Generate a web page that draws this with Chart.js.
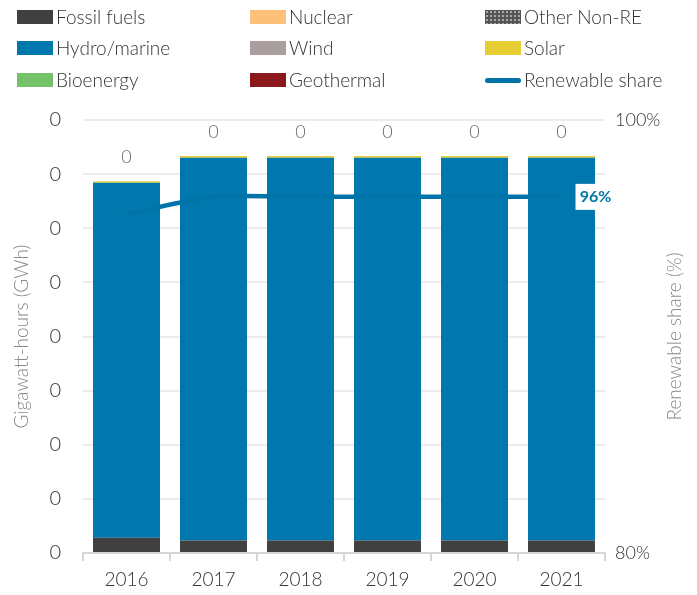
<!DOCTYPE html>
<html>
<head>
<meta charset="utf-8">
<script src="https://cdn.jsdelivr.net/npm/chart.js@4/dist/chart.umd.min.js"></script>
<style>
  body { margin: 0; background: #fff; font-family: Lato, "Open Sans", sans-serif; }
  #wrap { position: relative; width: 697px; height: 595px; }
  #chart { position: absolute; left: 0; top: 0; }
  .legend { position: absolute; left: 0; top: 0; width: 697px; height: 100px; }
  .item { position: absolute; display: flex; align-items: center; font-size: 19px; color: #333; font-weight: 300; line-height: 22px; }
  .sw { width: 36px; height: 14px; margin-right: 3px; }
  .sw.line { height: 5px; border-radius: 3px; margin-right: 3px; }
</style>
</head>
<body>
<div id="wrap">
  <canvas id="chart" width="697" height="595"></canvas>
  <div class="legend" id="legend"></div>
</div>
<script>
// data (GWh, very small so the axis shows only "0")
const years = ["2016", "2017", "2018", "2019", "2020", "2021"];
const fossil = [0.014, 0.0115, 0.0115, 0.0115, 0.0115, 0.0115];
const nuclear = [0, 0, 0, 0, 0, 0];
const otherNonRE = [0, 0, 0, 0, 0, 0];
const hydro = [0.328, 0.3537, 0.3537, 0.3537, 0.3537, 0.3537];
const wind = [0, 0, 0, 0, 0, 0];
const solar = [0.0015, 0.0015, 0.0015, 0.0015, 0.0015, 0.0015];
const bioenergy = [0, 0, 0, 0, 0, 0];
const geothermal = [0, 0, 0, 0, 0, 0];
const renewableShare = [95.65, 96.45, 96.45, 96.45, 96.45, 96.45];
const leftTicks = { min: 0, max: 0.4, step: 0.05 };
const rightTicks = { min: 80, max: 100, step: 20 };

const FONT = "Lato, 'Open Sans', sans-serif";

function dotPattern() {
  const c = document.createElement("canvas");
  c.width = 4; c.height = 4;
  const g = c.getContext("2d");
  g.fillStyle = "#555"; g.fillRect(0, 0, 4, 4);
  g.fillStyle = "#bbb"; g.fillRect(1, 1, 1, 1);
  return g.createPattern(c, "repeat");
}

const barSets = [
  { label: "Fossil fuels", data: fossil, color: "#404040" },
  { label: "Nuclear", data: nuclear, color: "#FDC07A" },
  { label: "Other Non-RE", data: otherNonRE, color: dotPattern(), css: "radial-gradient(#aaa 0.7px, #555 1px) 0 0/4px 4px" },
  { label: "Hydro/marine", data: hydro, color: "#0077AD" },
  { label: "Wind", data: wind, color: "#AB9E9F" },
  { label: "Solar", data: solar, color: "#E5CF32" },
  { label: "Bioenergy", data: bioenergy, color: "#76C26B" },
  { label: "Geothermal", data: geothermal, color: "#8C1A1B" }
];
const lineColor = "#0074A8";

// HTML legend, 3 columns like the original
const legendOrder = ["Fossil fuels", "Nuclear", "Other Non-RE", "Hydro/marine", "Wind", "Solar", "Bioenergy", "Geothermal", "Renewable share"];
const colX = [17, 250, 485];
const rowY = [17, 48, 80];
const legend = document.getElementById("legend");
legendOrder.forEach((name, i) => {
  const el = document.createElement("div");
  el.className = "item";
  el.style.left = colX[i % 3] + "px";
  el.style.top = (rowY[Math.floor(i / 3)] - 11) + "px";
  const sw = document.createElement("span");
  sw.className = "sw";
  if (name === "Renewable share") {
    sw.className = "sw line";
    sw.style.background = lineColor;
  } else {
    const s = barSets.find(b => b.label === name);
    sw.style.background = s.css || s.color;
  }
  el.appendChild(sw);
  el.appendChild(document.createTextNode(name));
  legend.appendChild(el);
});

const totalsPlugin = {
  id: "totals",
  afterDatasetsDraw(chart) {
    const ctx = chart.ctx;
    const y = chart.scales.y;
    const x = chart.scales.x;
    ctx.save();
    ctx.font = "300 18px " + FONT;
    ctx.fillStyle = "#666";
    ctx.textAlign = "center";
    ctx.textBaseline = "middle";
    years.forEach((yr, i) => {
      const total = barSets.reduce((s, b) => s + b.data[i], 0);
      ctx.fillText(total.toFixed(0), x.getPixelForValue(i), y.getPixelForValue(total) - 24);
    });
    // end label of the share line
    const last = renewableShare.length - 1;
    const px = x.getPixelForValue(last) + 34;
    const py = chart.scales.y1.getPixelForValue(renewableShare[last]);
    ctx.fillStyle = "#fff";
    ctx.fillRect(px - 20, py - 13, 40, 26);
    ctx.font = "bold 16px " + FONT;
    ctx.fillStyle = lineColor;
    ctx.fillText(Math.round(renewableShare[last]) + "%", px, py);
    // axis titles, both reading bottom to top
    const a = chart.chartArea;
    const mid = (a.top + a.bottom) / 2;
    ctx.font = "300 19px " + FONT;
    ctx.fillStyle = "#888";
    ctx.save();
    ctx.translate(22, mid);
    ctx.rotate(-Math.PI / 2);
    ctx.fillText("Gigawatt-hours (GWh)", 0, 0);
    ctx.restore();
    ctx.translate(675, mid);
    ctx.rotate(-Math.PI / 2);
    ctx.fillText("Renewable share (%)", 0, 0);
    ctx.restore();
  }
};

const datasets = barSets.map(b => ({
  type: "bar",
  label: b.label,
  data: b.data,
  backgroundColor: b.color,
  borderWidth: 0,
  barPercentage: 0.77,
  categoryPercentage: 1,
  yAxisID: "y",
  stack: "gen",
  order: 1
}));
datasets.push({
  type: "line",
  label: "Renewable share",
  data: renewableShare,
  borderColor: lineColor,
  borderWidth: 4.5,
  pointRadius: 0,
  tension: 0.25,
  yAxisID: "y1",
  order: 0
});

new Chart(document.getElementById("chart"), {
  data: { labels: years, datasets },
  plugins: [totalsPlugin],
  options: {
    responsive: false,
    animation: false,
    layout: { padding: { top: 120, right: 0, left: 0, bottom: 0 } },
    plugins: { legend: { display: false }, tooltip: { enabled: false } },
    scales: {
      x: {
        stacked: true,
        offset: true,
        grid: { drawOnChartArea: false, drawTicks: true, tickLength: 8, color: "#d6d6d6", lineWidth: 2 },
        border: { color: "#d6d6d6", width: 2 },
        ticks: { color: "#333", font: { family: FONT, size: 19, weight: 300 }, padding: 7 },
        afterFit: s => { s.height = 42; }
      },
      y: {
        stacked: true,
        position: "left",
        min: leftTicks.min,
        max: leftTicks.max,
        ticks: {
          stepSize: leftTicks.step,
          color: "#333",
          font: { family: FONT, size: 20, weight: 300 },
          padding: 22,
          callback: v => Number(v).toFixed(0)
        },
        grid: { color: "#ececec", lineWidth: 2, drawTicks: false },
        border: { display: false },
        afterFit: s => { s.width = 83; }
      },
      y1: {
        position: "right",
        min: rightTicks.min,
        max: rightTicks.max,
        ticks: {
          stepSize: rightTicks.step,
          color: "#333",
          font: { family: FONT, size: 18, weight: 300 },
          padding: 10,
          callback: v => v + "%"
        },
        grid: { display: false, drawTicks: false },
        border: { display: false },
        afterFit: s => { s.width = 92; }
      }
    }
  }
});
</script>
</body>
</html>
